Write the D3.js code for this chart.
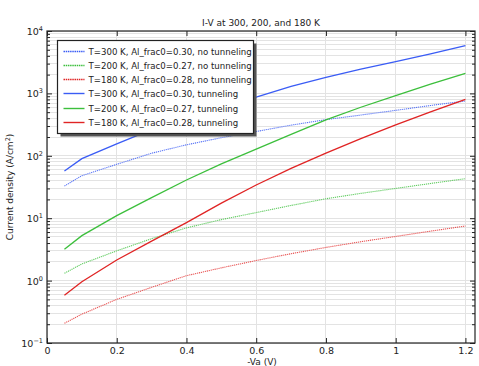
<!DOCTYPE html>
<html><head><meta charset="utf-8">
<script src="https://cdn.jsdelivr.net/npm/d3@7"></script>
<style>body{margin:0;background:#fff}svg{display:block}text{font-family:"DejaVu Sans",sans-serif;fill:#222}</style>
</head><body><svg id="c" width="479" height="366"></svg>
<script>
const voltages = [0.05, 0.1, 0.2, 0.3, 0.4, 0.5, 0.6, 0.7, 0.8, 0.9, 1.0, 1.1, 1.2];
const j300NoTun = [32.8, 48, 73, 110, 150, 195, 245, 310, 380, 450, 535, 640, 755];
const j200NoTun = [1.31, 1.85, 3.0, 4.7, 7.0, 9.5, 12.3, 16, 20.5, 25, 30, 36, 43];
const j180NoTun = [0.207, 0.29, 0.5, 0.78, 1.2, 1.6, 2.1, 2.7, 3.4, 4.2, 5.1, 6.2, 7.5];
const j300Tun = [57, 90, 155, 263, 400, 600, 870, 1300, 1810, 2450, 3220, 4300, 5820];
const j200Tun = [3.18, 5.25, 11, 21.4, 41, 74, 128, 221, 375, 600, 918, 1410, 2100];
const j180Tun = [0.58, 0.96, 2.14, 4.3, 8.5, 17.4, 34, 63, 110, 188, 312, 507, 803];
const seriesNames = [
  "T=300 K, Al_frac0=0.30, no tunneling",
  "T=200 K, Al_frac0=0.27, no tunneling",
  "T=180 K, Al_frac0=0.28, no tunneling",
  "T=300 K, Al_frac0=0.30, tunneling",
  "T=200 K, Al_frac0=0.27, tunneling",
  "T=180 K, Al_frac0=0.28, tunneling"
];
const xTicks = [0, 0.2, 0.4, 0.6, 0.8, 1, 1.2];
const yExps = [-1, 0, 1, 2, 3, 4];
const title = "I-V at 300, 200, and 180 K";

const colors = ["#3a5cf5", "#3cbf3c", "#e02424"];
const dotColors = ["#5a76f6", "#62cc62", "#e85454"];
const series = [
  {name: seriesNames[0], vals: j300NoTun, c: dotColors[0], dash: true},
  {name: seriesNames[1], vals: j200NoTun, c: dotColors[1], dash: true},
  {name: seriesNames[2], vals: j180NoTun, c: dotColors[2], dash: true},
  {name: seriesNames[3], vals: j300Tun, c: colors[0], dash: false},
  {name: seriesNames[4], vals: j200Tun, c: colors[1], dash: false},
  {name: seriesNames[5], vals: j180Tun, c: colors[2], dash: false}
];

const L = 47, R = 475, T = 31, B = 343;
const svg = d3.select("#c");
const x = d3.scaleLinear().domain([0, 1.2275]).range([L, R]);
const y = d3.scaleLog().domain([0.1, 10000]).range([B, T]);

// grid
const minorVals = [];
for (let e = -1; e < 4; e++) for (let m = 1; m < 10; m++) minorVals.push(m * Math.pow(10, e));
minorVals.push(10000);
const g = svg.append("g");
g.selectAll("line.gy").data(minorVals).join("line")
  .attr("x1", L).attr("x2", R).attr("y1", d => y(d)).attr("y2", d => y(d))
  .attr("stroke", "#e3e3e3").attr("stroke-width", 1).attr("shape-rendering", "crispEdges");
g.selectAll("line.gx").data(xTicks).join("line")
  .attr("x1", d => x(d)).attr("x2", d => x(d)).attr("y1", T).attr("y2", B)
  .attr("stroke", "#e3e3e3").attr("stroke-width", 1).attr("shape-rendering", "crispEdges");

// lines
const line = d3.line().x((d, i) => x(voltages[i])).y(d => y(d));
svg.append("g").selectAll("path").data(series).join("path")
  .attr("d", d => line(d.vals)).attr("fill", "none")
  .attr("stroke", d => d.c)
  .attr("stroke-width", d => d.dash ? 1.1 : 1.3)
  .attr("stroke-dasharray", d => d.dash ? "1.2,0.8" : null);

// axes (ticks inward)
const minorNoLabel = minorVals.filter(v => !yExps.some(e => Math.abs(Math.log10(v) - e) < 1e-9));
const ax = svg.append("g");
ax.append("g").attr("transform", `translate(0,${B})`)
  .call(d3.axisBottom(x).tickValues(xTicks).tickSize(-5).tickPadding(4).tickFormat(d3.format("")))
  .call(s => s.select(".domain").remove());
ax.append("g").attr("transform", `translate(0,${T})`)
  .call(d3.axisTop(x).tickValues(xTicks).tickSize(-5).tickFormat(""))
  .call(s => s.select(".domain").remove());
ax.append("g").attr("transform", `translate(${L},0)`)
  .call(d3.axisLeft(y).tickValues(yExps.map(e => Math.pow(10, e))).tickSize(-5).tickFormat(""))
  .call(s => s.select(".domain").remove());
ax.append("g").attr("transform", `translate(${L},0)`)
  .call(d3.axisLeft(y).tickValues(minorNoLabel).tickSize(-3).tickFormat(""))
  .call(s => s.select(".domain").remove());
ax.append("g").attr("transform", `translate(${R},0)`)
  .call(d3.axisRight(y).tickValues(yExps.map(e => Math.pow(10, e))).tickSize(-5).tickFormat(""))
  .call(s => s.select(".domain").remove());
ax.append("g").attr("transform", `translate(${R},0)`)
  .call(d3.axisRight(y).tickValues(minorNoLabel).tickSize(-3).tickFormat(""))
  .call(s => s.select(".domain").remove());
ax.selectAll(".tick line").attr("stroke", "#222");
ax.selectAll("text").attr("font-size", 9.5).attr("fill", "#222").attr("font-family", "DejaVu Sans, sans-serif");

svg.append("rect").attr("x", L).attr("y", T).attr("width", R - L).attr("height", B - T)
  .attr("fill", "none").attr("stroke", "#222").attr("stroke-width", 1.2);

// y tick labels with superscripts
const yl = svg.append("g");
yExps.forEach(e => {
  const t = yl.append("text").attr("x", 43).attr("y", y(Math.pow(10, e)) + 4)
    .attr("text-anchor", "end").attr("font-size", 9.5);
  t.append("tspan").text("10");
  t.append("tspan").attr("dy", -4).attr("font-size", 6.5).text(String(e).replace("-", "\u2212"));
});

// title & labels
svg.append("text").attr("x", 261).attr("y", 26).attr("text-anchor", "middle").attr("font-size", 9).text(title);
svg.append("text").attr("x", 262).attr("y", 365).attr("text-anchor", "middle").attr("font-size", 9).text("-Va (V)");
const ylab = svg.append("text").attr("transform", `translate(13,${(T + B) / 2}) rotate(-90)`)
  .attr("text-anchor", "middle").attr("font-size", 9);
ylab.append("tspan").text("Current density (A/cm");
ylab.append("tspan").attr("dy", -3).attr("font-size", 6.5).text("2");
ylab.append("tspan").attr("dy", 3).text(")");

// legend
const lg = svg.append("g");
const lx = 57.5, ly = 40.5, lw = 196, lh = 93;
lg.append("rect").attr("x", lx + 3).attr("y", ly + 3).attr("width", lw).attr("height", lh).attr("fill", "#555");
lg.append("rect").attr("x", lx).attr("y", ly).attr("width", lw).attr("height", lh).attr("fill", "#fff")
  .attr("stroke", "#222").attr("stroke-width", 1.2);
series.forEach((s, i) => {
  const yy = Math.round(ly + 10 + i * 14.3) + 0.5;
  lg.append("line").attr("x1", lx + 6).attr("x2", lx + 27).attr("y1", yy).attr("y2", yy)
    .attr("stroke", s.dash ? colors[i] : s.c).attr("stroke-width", s.dash ? 1.3 : 1.4)
    .attr("stroke-dasharray", s.dash ? "1.5,0.7" : null);
  lg.append("text").attr("x", lx + 31).attr("y", yy + 3.3).attr("font-size", 8.6).text(s.name);
});
</script></body></html>
